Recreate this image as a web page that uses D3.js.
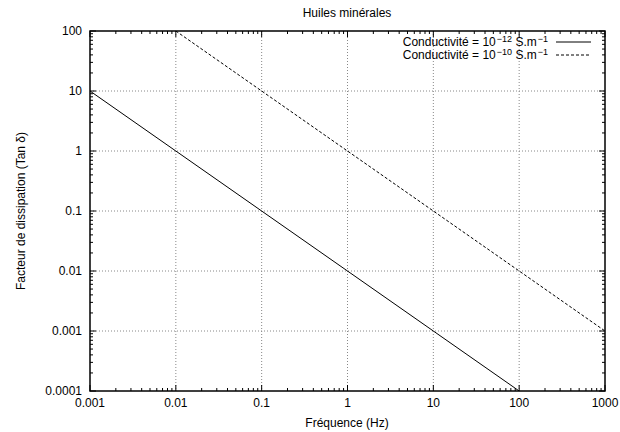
<!DOCTYPE html>
<html><head><meta charset="utf-8">
<script src="https://cdn.jsdelivr.net/npm/d3@7"></script>
<style>
body{margin:0;background:#fff}
text{font-family:"Liberation Sans",Arial,sans-serif;font-size:12px;fill:#000}
</style></head><body>
<svg id="c" width="620" height="432"></svg>
<script>
const title = "Huiles minérales";
const xLabel = "Fréquence (Hz)";
const yLabel = "Facteur de dissipation (Tan δ)";
const xTicks = [0.001, 0.01, 0.1, 1, 10, 100, 1000];
const xTickLabels = ["0.001","0.01","0.1","1","10","100","1000"];
const yTicks = [0.0001, 0.001, 0.01, 0.1, 1, 10, 100];
const yTickLabels = ["0.0001","0.001","0.01","0.1","1","10","100"];
// series: conductivity 1e-12 S/m
const freq1 = [0.001, 0.01, 0.1, 1, 10, 100];
const tan1  = [10, 1, 0.1, 0.01, 0.001, 0.0001];
// series: conductivity 1e-10 S/m
const freq2 = [0.01, 0.1, 1, 10, 100, 1000];
const tan2  = [100, 10, 1, 0.1, 0.01, 0.001];
const seriesExp = ["−12", "−10"];

const svg = d3.select("#c");
const L = 90, R = 605, T = 31, B = 391;
const x = d3.scaleLog().domain([0.001, 1000]).range([L, R]);
const y = d3.scaleLog().domain([0.0001, 100]).range([B, T]);

// grid
const g = svg.append("g");
xTicks.slice(1, -1).forEach(v => {
  g.append("line").attr("x1", x(v)).attr("x2", x(v)).attr("y1", T).attr("y2", B)
   .attr("stroke", "#888").attr("stroke-width", 1).attr("stroke-dasharray", "1,2");
});
yTicks.slice(1, -1).forEach(v => {
  g.append("line").attr("x1", L).attr("x2", R).attr("y1", y(v)).attr("y2", y(v))
   .attr("stroke", "#888").attr("stroke-width", 1).attr("stroke-dasharray", "1,2");
});

// minor ticks
const minorX = [], minorY = [];
for (let e = -3; e < 3; e++) for (let m = 2; m <= 9; m++) minorX.push(m * Math.pow(10, e));
for (let e = -4; e < 2; e++) for (let m = 2; m <= 9; m++) minorY.push(m * Math.pow(10, e));

const ax = svg.append("g").attr("stroke", "#000").attr("stroke-width", 1);
xTicks.forEach(v => {
  ax.append("line").attr("x1", x(v)).attr("x2", x(v)).attr("y1", B).attr("y2", B - 6);
  ax.append("line").attr("x1", x(v)).attr("x2", x(v)).attr("y1", T).attr("y2", T + 6);
});
minorX.forEach(v => {
  ax.append("line").attr("x1", x(v)).attr("x2", x(v)).attr("y1", B).attr("y2", B - 3);
  ax.append("line").attr("x1", x(v)).attr("x2", x(v)).attr("y1", T).attr("y2", T + 3);
});
yTicks.forEach(v => {
  ax.append("line").attr("x1", L).attr("x2", L + 6).attr("y1", y(v)).attr("y2", y(v));
  ax.append("line").attr("x1", R).attr("x2", R - 6).attr("y1", y(v)).attr("y2", y(v));
});
minorY.forEach(v => {
  ax.append("line").attr("x1", L).attr("x2", L + 3).attr("y1", y(v)).attr("y2", y(v));
  ax.append("line").attr("x1", R).attr("x2", R - 3).attr("y1", y(v)).attr("y2", y(v));
});

// tick labels
xTicks.forEach((v, i) => {
  svg.append("text").attr("x", x(v)).attr("y", 407).attr("text-anchor", "middle").text(xTickLabels[i]);
});
yTicks.forEach((v, i) => {
  svg.append("text").attr("x", 82).attr("y", y(v) + 4).attr("text-anchor", "end").text(yTickLabels[i]);
});

// lines
const line = d3.line().x(d => x(d[0])).y(d => y(d[1]));
svg.append("path").datum(freq1.map((f, i) => [f, tan1[i]])).attr("d", line)
  .attr("fill", "none").attr("stroke", "#000").attr("stroke-width", 1);
svg.append("path").datum(freq2.map((f, i) => [f, tan2[i]])).attr("d", line)
  .attr("fill", "none").attr("stroke", "#000").attr("stroke-width", 1).attr("stroke-dasharray", "3,2");

// frame
svg.append("rect").attr("x", L).attr("y", T).attr("width", R - L).attr("height", B - T)
  .attr("fill", "none").attr("stroke", "#000").attr("stroke-width", 1.5);

// labels
svg.append("text").attr("x", 347).attr("y", 17).attr("text-anchor", "middle").text(title);
svg.append("text").attr("x", 347).attr("y", 427).attr("text-anchor", "middle").text(xLabel);
svg.append("text").attr("transform", "translate(25,211) rotate(-90)").attr("text-anchor", "middle").text(yLabel);

// legend
const rows = [46, 59];
rows.forEach((ry, i) => {
  const t = svg.append("text").attr("x", 548).attr("y", ry).attr("text-anchor", "end");
  t.append("tspan").text("Conductivité = 10");
  t.append("tspan").attr("dy", -4).attr("dx", 1).attr("font-size", "9px").text(seriesExp[i]);
  t.append("tspan").attr("dy", 4).text(" S.m");
  t.append("tspan").attr("dy", -4).attr("dx", 1).attr("font-size", "9px").text("−1");
  const l = svg.append("line").attr("x1", 556).attr("x2", 591).attr("y1", ry - 4).attr("y2", ry - 4)
    .attr("stroke", "#000").attr("stroke-width", 1);
  if (i === 1) l.attr("stroke-dasharray", "3,2");
});
</script>
</body></html>
